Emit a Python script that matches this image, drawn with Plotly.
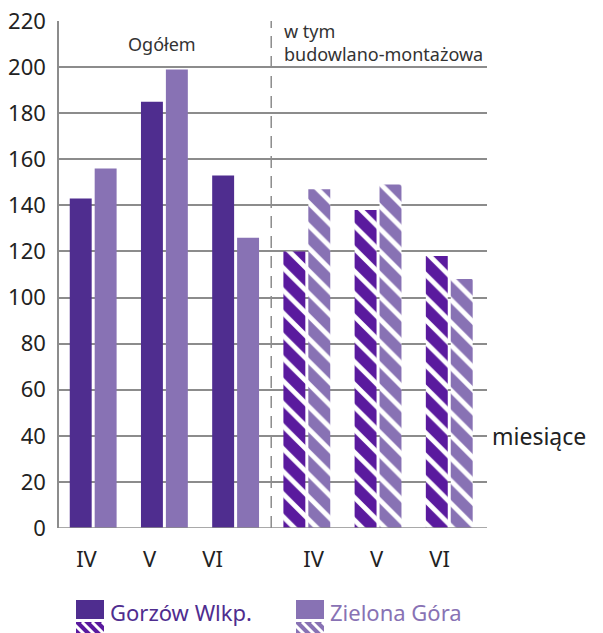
import plotly.graph_objects as go

# ---- data ----
months = ["IV", "V", "VI"]
section_labels = ["Ogółem", "w tym<br>budowlano-montażowa"]
cities = ["Gorzów Wlkp.", "Zielona Góra"]
gorzow_ogolem = [143, 185, 153]
zielona_ogolem = [156, 199, 126]
gorzow_budowl = [120, 138, 118]
zielona_budowl = [147, 149, 108]
y_ticks = list(range(0, 221, 20))
axis_title = "miesiące"

# ---- styles ----
C_GORZOW = "#4F2D8F"
C_GORZOW_H = "#5A1A9E"
C_ZIELONA = "#8872B4"
C_ZIELONA_H = "#8872B4"
GRID = "#8C8C8C"
TXT = "#222222"
FONT = "Noto Sans"

PAGE_OFF = 8  # default body margin of the html page
W, H = 603 - PAGE_OFF, 633 - PAGE_OFF
ML, MR, MT, MB = 59 - PAGE_OFF, 116, 21 - PAGE_OFF, 105

n = len(months)
x_ogolem = list(range(n))
x_budowl = [n + i for i in range(n)]
ticktext = months + months
# month labels in the original are set a little tighter than the bar groups
LABEL_STEP = 0.885
label_pos = [-0.094 + LABEL_STEP * i for i in range(n)] + \
            [3.094 + LABEL_STEP * i for i in range(n)]


def bar(name, group, xs, vals, color, hatched):
    pattern = dict(shape="\\", fillmode="replace", fgcolor="#FFFFFF",
                   bgcolor=color, size=16, solidity=0.3) if hatched else dict(shape="")
    return go.Bar(
        name=name, x=xs, y=vals, offsetgroup=group,
        marker=dict(color=color, line=dict(width=0), pattern=pattern),
        showlegend=False, hoverinfo="x+y+name",
    )


fig = go.Figure()
fig.add_trace(bar(cities[0], "g", x_ogolem, gorzow_ogolem, C_GORZOW, False))
fig.add_trace(bar(cities[1], "z", x_ogolem, zielona_ogolem, C_ZIELONA, False))
fig.add_trace(bar(cities[0], "g", x_budowl, gorzow_budowl, C_GORZOW_H, True))
fig.add_trace(bar(cities[1], "z", x_budowl, zielona_budowl, C_ZIELONA_H, True))

fig.update_layout(
    width=W, height=H, autosize=False,
    margin=dict(l=ML, r=MR, t=MT, b=MB, pad=0),
    paper_bgcolor="white", plot_bgcolor="white",
    barmode="group", bargap=0.30, bargroupgap=0.12,
    font=dict(family=FONT, color=TXT),
)

fig.update_xaxes(
    range=[-0.48, 2 * n - 0.47],
    tickvals=label_pos, ticktext=ticktext,
    tickfont=dict(size=22, color=TXT, family=FONT),
    showgrid=False, zeroline=False, showline=False, ticks="",
    ticklabelstandoff=16, automargin=False,
)
fig.update_yaxes(
    range=[0, 220], tickvals=y_ticks,
    tickfont=dict(size=22, color=TXT, family=FONT),
    showgrid=True, gridcolor=GRID, gridwidth=1.5,
    zeroline=False, showline=True, linecolor=GRID, linewidth=1.5,
    ticks="", ticklabelstandoff=7, automargin=False,
    ticklabeloverflow="allow",
)

# baseline
fig.add_shape(type="line", xref="paper", yref="y", x0=0, x1=1, y0=0, y1=0,
              line=dict(color=GRID, width=1.5), layer="above")
# dashed separator between sections
fig.add_shape(type="line", xref="x", yref="y", x0=n - 0.5, x1=n - 0.5, y0=0, y1=220,
              line=dict(color=GRID, width=1.5, dash="12px,8px"), layer="below")

# section headers
fig.add_annotation(x=(n - 1) / 2 - 0.04, y=210, xref="x", yref="y", text=section_labels[0],
                   showarrow=False, font=dict(size=18, color="#333333", family=FONT),
                   xanchor="center", yanchor="middle")
fig.add_annotation(x=n - 0.35, y=210.5, xref="x", yref="y", text=section_labels[1],
                   showarrow=False, font=dict(size=18, color="#333333", family=FONT),
                   xanchor="left", yanchor="middle", align="left")

# axis label
fig.add_annotation(x=1.0, y=40, xref="paper", yref="y", text=axis_title,
                   showarrow=False, font=dict(size=23, color=TXT, family=FONT),
                   xanchor="left", yanchor="middle", xshift=3)

# ---- custom legend (page-pixel helpers) ----
PW = W - ML - MR
PH = H - MT - MB


def px(xp):
    return (xp - PAGE_OFF - ML) / PW


def py(yp):
    return (PAGE_OFF + MT + PH - yp) / PH


legend_items = [
    (cities[0], C_GORZOW, C_GORZOW_H, 76),
    (cities[1], C_ZIELONA, C_ZIELONA_H, 296),
]
for name, cs, ch, x0 in legend_items:
    x1 = x0 + 28
    fig.add_shape(type="rect", xref="paper", yref="paper",
                  x0=px(x0), x1=px(x1), y0=py(619), y1=py(600),
                  fillcolor=cs, line=dict(width=0))
    fig.add_shape(type="rect", xref="paper", yref="paper",
                  x0=px(x0), x1=px(x1), y0=py(634), y1=py(622),
                  fillcolor=ch, line=dict(width=0))
    for off in (-4, 6, 16, 26):
        fig.add_shape(type="line", xref="paper", yref="paper",
                      x0=px(x0 + off), y0=py(622), x1=px(x0 + off + 12), y1=py(634),
                      line=dict(color="#FFFFFF", width=3))
    fig.add_annotation(x=px(x1 + 4), y=py(612), xref="paper", yref="paper",
                       text=name, showarrow=False,
                       font=dict(size=22, color=cs, family=FONT),
                       xanchor="left", yanchor="middle")

fig.write_html("out.html")
